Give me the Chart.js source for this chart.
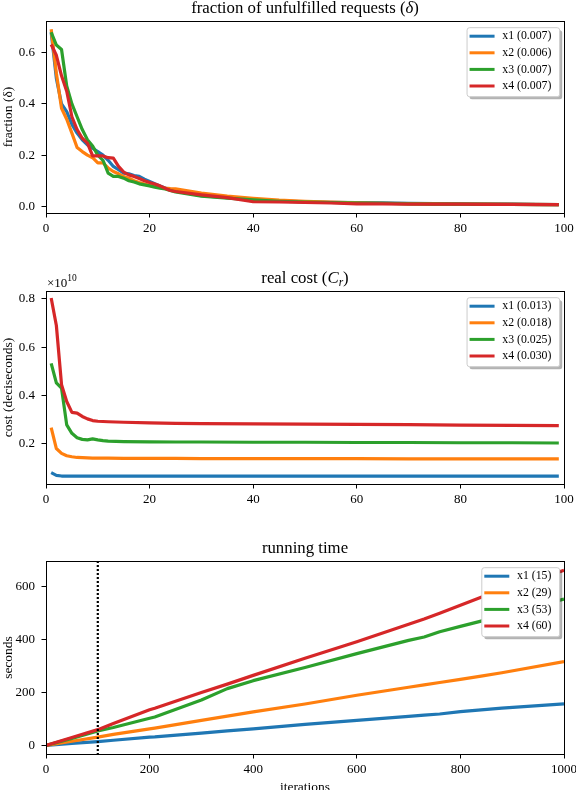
<!DOCTYPE html>
<html>
<head>
<meta charset="utf-8">
<script src="https://cdn.jsdelivr.net/npm/chart.js@4.4.1/dist/chart.umd.min.js"></script>
<style>
  html, body { margin: 0; padding: 0; background: #fff; overflow: hidden; }
  body { width: 576px; height: 790px; position: relative; }
  .box { position: absolute; left: 0; width: 576px; }
</style>
</head>
<body>
<div class="box" style="top:0;height:240px"><canvas id="chart1"></canvas></div>
<div class="box" style="top:240px;height:270px"><canvas id="chart2"></canvas></div>
<div class="box" style="top:510px;height:290px"><canvas id="chart3"></canvas></div>
<script>
const colors = ['#1f77b4', '#ff7f0e', '#2ca02c', '#d62728'];
const serif = '"Liberation Serif", "DejaVu Serif", serif';

// fraction of unfulfilled requests
const iters1 = [1, 2, 3, 4, 5, 6, 7, 8, 9, 10, 11, 12, 13, 14, 15, 16, 17, 18, 19, 20, 21, 22, 23, 24,
                25, 30, 35, 40, 45, 50, 55, 60, 65, 70, 75, 80, 85, 90, 95, 99];
const frac1 = [0.68, 0.50, 0.40, 0.37, 0.32, 0.286, 0.26, 0.24, 0.227, 0.214, 0.20, 0.18, 0.156, 0.143, 0.13, 0.127, 0.12, 0.117, 0.106, 0.097, 0.088, 0.08, 0.072, 0.065,
               0.06, 0.042, 0.034, 0.026, 0.021, 0.018, 0.016, 0.015, 0.014, 0.012, 0.011, 0.010, 0.010, 0.009, 0.008, 0.007];
const frac2 = [0.692, 0.52, 0.383, 0.34, 0.286, 0.23, 0.214, 0.20, 0.19, 0.17, 0.17, 0.15, 0.136, 0.127, 0.117, 0.11, 0.10, 0.093, 0.087, 0.082, 0.078, 0.074, 0.071, 0.069,
               0.068, 0.052, 0.04, 0.031, 0.024, 0.02, 0.017, 0.014, 0.012, 0.011, 0.010, 0.009, 0.009, 0.008, 0.008, 0.007];
const frac3 = [0.68, 0.63, 0.613, 0.47, 0.40, 0.35, 0.30, 0.26, 0.236, 0.20, 0.18, 0.13, 0.117, 0.117, 0.11, 0.10, 0.095, 0.088, 0.084, 0.08, 0.075, 0.071, 0.068, 0.062,
               0.056, 0.04, 0.032, 0.025, 0.02, 0.017, 0.015, 0.013, 0.012, 0.010, 0.009, 0.009, 0.008, 0.008, 0.007, 0.007];
const frac4 = [0.632, 0.59, 0.51, 0.45, 0.35, 0.30, 0.266, 0.247, 0.197, 0.197, 0.197, 0.19, 0.188, 0.156, 0.134, 0.123, 0.117, 0.109, 0.10, 0.093, 0.087, 0.08, 0.071, 0.062,
               0.058, 0.045, 0.034, 0.018, 0.017, 0.015, 0.013, 0.010, 0.010, 0.009, 0.009, 0.009, 0.008, 0.008, 0.007, 0.007];
const labels1 = ['x1 (0.007)', 'x2 (0.006)', 'x3 (0.007)', 'x4 (0.007)'];

// real cost, in units of 1e10 deciseconds
const iters2 = [1, 2, 3, 4, 5, 6, 7, 8, 9, 10, 11, 12, 15, 20, 25, 30, 40, 50, 60, 70, 80, 90, 99];
const cost1 = [0.080, 0.069, 0.066, 0.066, 0.066, 0.066, 0.066, 0.066, 0.066, 0.066, 0.066, 0.066, 0.066, 0.066, 0.066, 0.066, 0.066, 0.066, 0.066, 0.066, 0.066, 0.066, 0.066];
const cost2 = [0.267, 0.18, 0.16, 0.15, 0.146, 0.143, 0.142, 0.141, 0.140, 0.140, 0.140, 0.140, 0.139, 0.139, 0.139, 0.138, 0.138, 0.138, 0.138, 0.137, 0.137, 0.137, 0.137];
const cost3 = [0.533, 0.452, 0.43, 0.278, 0.243, 0.225, 0.218, 0.216, 0.220, 0.216, 0.213, 0.211, 0.209, 0.208, 0.207, 0.207, 0.206, 0.206, 0.205, 0.205, 0.204, 0.204, 0.203];
const cost4 = [0.804, 0.69, 0.445, 0.375, 0.33, 0.327, 0.313, 0.303, 0.296, 0.293, 0.292, 0.291, 0.289, 0.286, 0.284, 0.283, 0.282, 0.281, 0.280, 0.279, 0.277, 0.276, 0.275];
const labels2 = ['x1 (0.013)', 'x2 (0.018)', 'x3 (0.025)', 'x4 (0.030)'];

// running time (seconds)
const iters3 = [0, 50, 100, 130, 200, 210, 300, 350, 400, 500, 600, 700, 730, 760, 800, 840, 880, 1000];
const time1 = [0, 8, 15, 20, 32, 33, 47, 55, 63, 80, 95, 110, 115, 119, 128, 135, 141, 157];
const time2 = [0, 16, 32, 42, 63, 66, 95, 111, 127, 157, 190, 220, 229, 238, 250, 262, 275, 317];
const time3 = [0, 27, 55, 68, 103, 108, 172, 215, 245, 295, 347, 397, 410, 430, 450, 470, 490, 553];
const time4 = [0, 30, 60, 83, 135, 141, 200, 232, 265, 330, 392, 458, 478, 500, 530, 560, 585, 662];
const labels3 = ['x1 (15)', 'x2 (29)', 'x3 (53)', 'x4 (60)'];
const markIter = 100;

// ticks
const xTicks1 = [0, 20, 40, 60, 80, 100];
const yTicks1 = [0, 0.2, 0.4, 0.6];
const yTicks2 = [0.2, 0.4, 0.6, 0.8];
const xTicks3 = [0, 200, 400, 600, 800, 1000];
const yTicks3 = [0, 200, 400, 600];

function series(xs, ys, i, label) {
    return {
        label: label,
        data: xs.map((x, k) => ({x: x, y: ys[k]})),
        borderColor: colors[i],
        borderWidth: 3.2,
        borderJoinStyle: 'round',
        pointRadius: 0,
        tension: 0,
        fill: false,
        order: 4 - i
    };
}

function roundRect(ctx, x, y, w, h, r) {
    ctx.beginPath();
    ctx.moveTo(x + r, y);
    ctx.lineTo(x + w - r, y);
    ctx.arcTo(x + w, y, x + w, y + r, r);
    ctx.lineTo(x + w, y + h - r);
    ctx.arcTo(x + w, y + h, x + w - r, y + h, r);
    ctx.lineTo(x + r, y + h);
    ctx.arcTo(x, y + h, x, y + h - r, r);
    ctx.lineTo(x, y + r);
    ctx.arcTo(x, y, x + r, y, r);
    ctx.closePath();
}

function fontOf(p) {
    return (p[2] ? 'italic ' : '') + p[1] + 'px ' + serif;
}

// title, frame, legend box, offset text and marker line
const decor = {
    id: 'decor',
    afterDatasetsDraw(chart, args, opts) {
        const ctx = chart.ctx;
        const a = chart.chartArea;
        ctx.save();

        if (opts.vline !== undefined) {
            const x = chart.scales.x.getPixelForValue(opts.vline);
            ctx.strokeStyle = '#000';
            ctx.lineWidth = 2.2;
            ctx.setLineDash([2, 2]);
            ctx.beginPath();
            ctx.moveTo(x, a.top);
            ctx.lineTo(x, a.bottom);
            ctx.stroke();
            ctx.setLineDash([]);
        }

        ctx.strokeStyle = '#000';
        ctx.lineWidth = 1;
        ctx.strokeRect(Math.round(a.left) + 0.5, Math.round(a.top) + 0.5,
                       Math.round(a.right) - Math.round(a.left), Math.round(a.bottom) - Math.round(a.top));

        // title
        let total = 0;
        opts.title.forEach(p => { ctx.font = fontOf(p); total += ctx.measureText(p[0]).width; });
        let x = (a.left + a.right) / 2 - total / 2;
        ctx.fillStyle = '#000';
        ctx.textAlign = 'left';
        ctx.textBaseline = 'alphabetic';
        opts.title.forEach(p => {
            ctx.font = fontOf(p);
            ctx.fillText(p[0], x, a.top - 8 + (p[3] || 0));
            x += ctx.measureText(p[0]).width;
        });

        if (opts.offsetText) {
            ctx.font = '13px ' + serif;
            ctx.fillText('×10', a.left + 1, a.top - 4.5);
            const w = ctx.measureText('×10').width;
            ctx.font = '9.5px ' + serif;
            ctx.fillText(opts.offsetText, a.left + 1 + w, a.top - 10);
        }

        // legend
        const ds = chart.data.datasets;
        ctx.font = '11.8px ' + serif;
        const tw = Math.max(...ds.map(d => ctx.measureText(d.label).width));
        const w = tw + 43.5, h = 69;
        const right = a.right - 4.3, top = a.top + 6.7, left = right - w;
        ctx.fillStyle = 'rgba(0,0,0,0.3)';
        roundRect(ctx, left + 2.5, top + 2.5, w, h, 2.5);
        ctx.fill();
        ctx.fillStyle = '#fff';
        ctx.strokeStyle = '#ccc';
        roundRect(ctx, left, top, w, h, 2.5);
        ctx.fill();
        ctx.stroke();
        ds.forEach((d, i) => {
            const y = top + 8.5 + i * 16.6;
            ctx.strokeStyle = d.borderColor;
            ctx.lineWidth = 3;
            ctx.beginPath();
            ctx.moveTo(left + 2.5, y);
            ctx.lineTo(left + 27.5, y);
            ctx.stroke();
            ctx.fillStyle = '#000';
            ctx.textBaseline = 'middle';
            ctx.fillText(d.label, left + 35.2, y);
        });
        ctx.restore();
    }
};

function makeChart(id, cfg) {
    const ctx = document.getElementById(id);
    return new Chart(ctx, {
        type: 'line',
        data: {datasets: cfg.datasets},
        plugins: [decor],
        options: {
            responsive: true,
            maintainAspectRatio: false,
            animation: false,
            layout: {padding: {top: cfg.padTop, right: 12, bottom: 0, left: 0}},
            plugins: {
                legend: {display: false},
                tooltip: {enabled: false},
                decor: {title: cfg.title, offsetText: cfg.offsetText, vline: cfg.vline}
            },
            scales: {
                x: {
                    type: 'linear',
                    min: cfg.xMin, max: cfg.xMax,
                    bounds: 'data',
                    afterBuildTicks: s => { s.ticks = cfg.xTicks.map(v => ({value: v})); },
                    afterFit: s => { s.height = cfg.xHeight; s.paddingLeft = 0; s.paddingRight = 0; },
                    ticks: {
                        autoSkip: false, maxRotation: 0, padding: 3.5, color: '#000',
                        font: {family: serif, size: 13},
                        callback: v => String(v)
                    },
                    grid: {drawOnChartArea: false, drawTicks: true, tickLength: 4.5, color: '#000', lineWidth: 1},
                    border: {display: false},
                    title: {
                        display: !!cfg.xTitle, text: cfg.xTitle || '', color: '#000',
                        font: {family: serif, size: 13.5}, padding: {top: 0, bottom: 4}
                    }
                },
                y: {
                    type: 'linear',
                    min: cfg.yMin, max: cfg.yMax,
                    bounds: 'data',
                    afterBuildTicks: s => { s.ticks = cfg.yTicks.map(v => ({value: v})); },
                    afterFit: s => { s.width = 46; s.paddingTop = 0; s.paddingBottom = 0; },
                    ticks: {
                        padding: 6.5, color: '#000',
                        font: {family: serif, size: 13},
                        callback: cfg.yFmt
                    },
                    grid: {drawOnChartArea: false, drawTicks: true, tickLength: 4.5, color: '#000', lineWidth: 1},
                    border: {display: false},
                    title: {
                        display: true, text: cfg.yTitle, color: '#000',
                        font: {family: serif, size: 13.5}, padding: {top: 0.6, bottom: 0}
                    }
                }
            }
        }
    });
}

makeChart('chart1', {
    datasets: [frac1, frac2, frac3, frac4].map((ys, i) => series(iters1, ys, i, labels1[i])),
    title: [['fraction of unfulfilled requests (', 16.8], ['δ', 16.8, true], [')', 16.8]],
    padTop: 21, xHeight: 27,
    xMin: 0, xMax: 100, xTicks: xTicks1,
    yMin: -0.026, yMax: 0.724, yTicks: yTicks1,
    yFmt: v => v.toFixed(1),
    yTitle: 'fraction (δ)'
});

makeChart('chart2', {
    datasets: [cost1, cost2, cost3, cost4].map((ys, i) => series(iters2, ys, i, labels2[i])),
    title: [['real cost (', 16.8], ['C', 16.8, true], ['r', 11.5, true, 3], [')', 16.8]],
    offsetText: '10',
    padTop: 51, xHeight: 26,
    xMin: 0, xMax: 100, xTicks: xTicks1,
    yMin: 0.033, yMax: 0.833, yTicks: yTicks2,
    yFmt: v => v.toFixed(1),
    yTitle: 'cost (deciseconds)'
});

makeChart('chart3', {
    datasets: [time1, time2, time3, time4].map((ys, i) => series(iters3, ys, i, labels3[i])),
    title: [['running time', 16.8]],
    vline: markIter,
    padTop: 51, xHeight: 46,
    xMin: 0, xMax: 1000, xTicks: xTicks3,
    yMin: -32, yMax: 697, yTicks: yTicks3,
    yFmt: v => String(v),
    yTitle: 'seconds',
    xTitle: 'iterations'
});
</script>
</body>
</html>
